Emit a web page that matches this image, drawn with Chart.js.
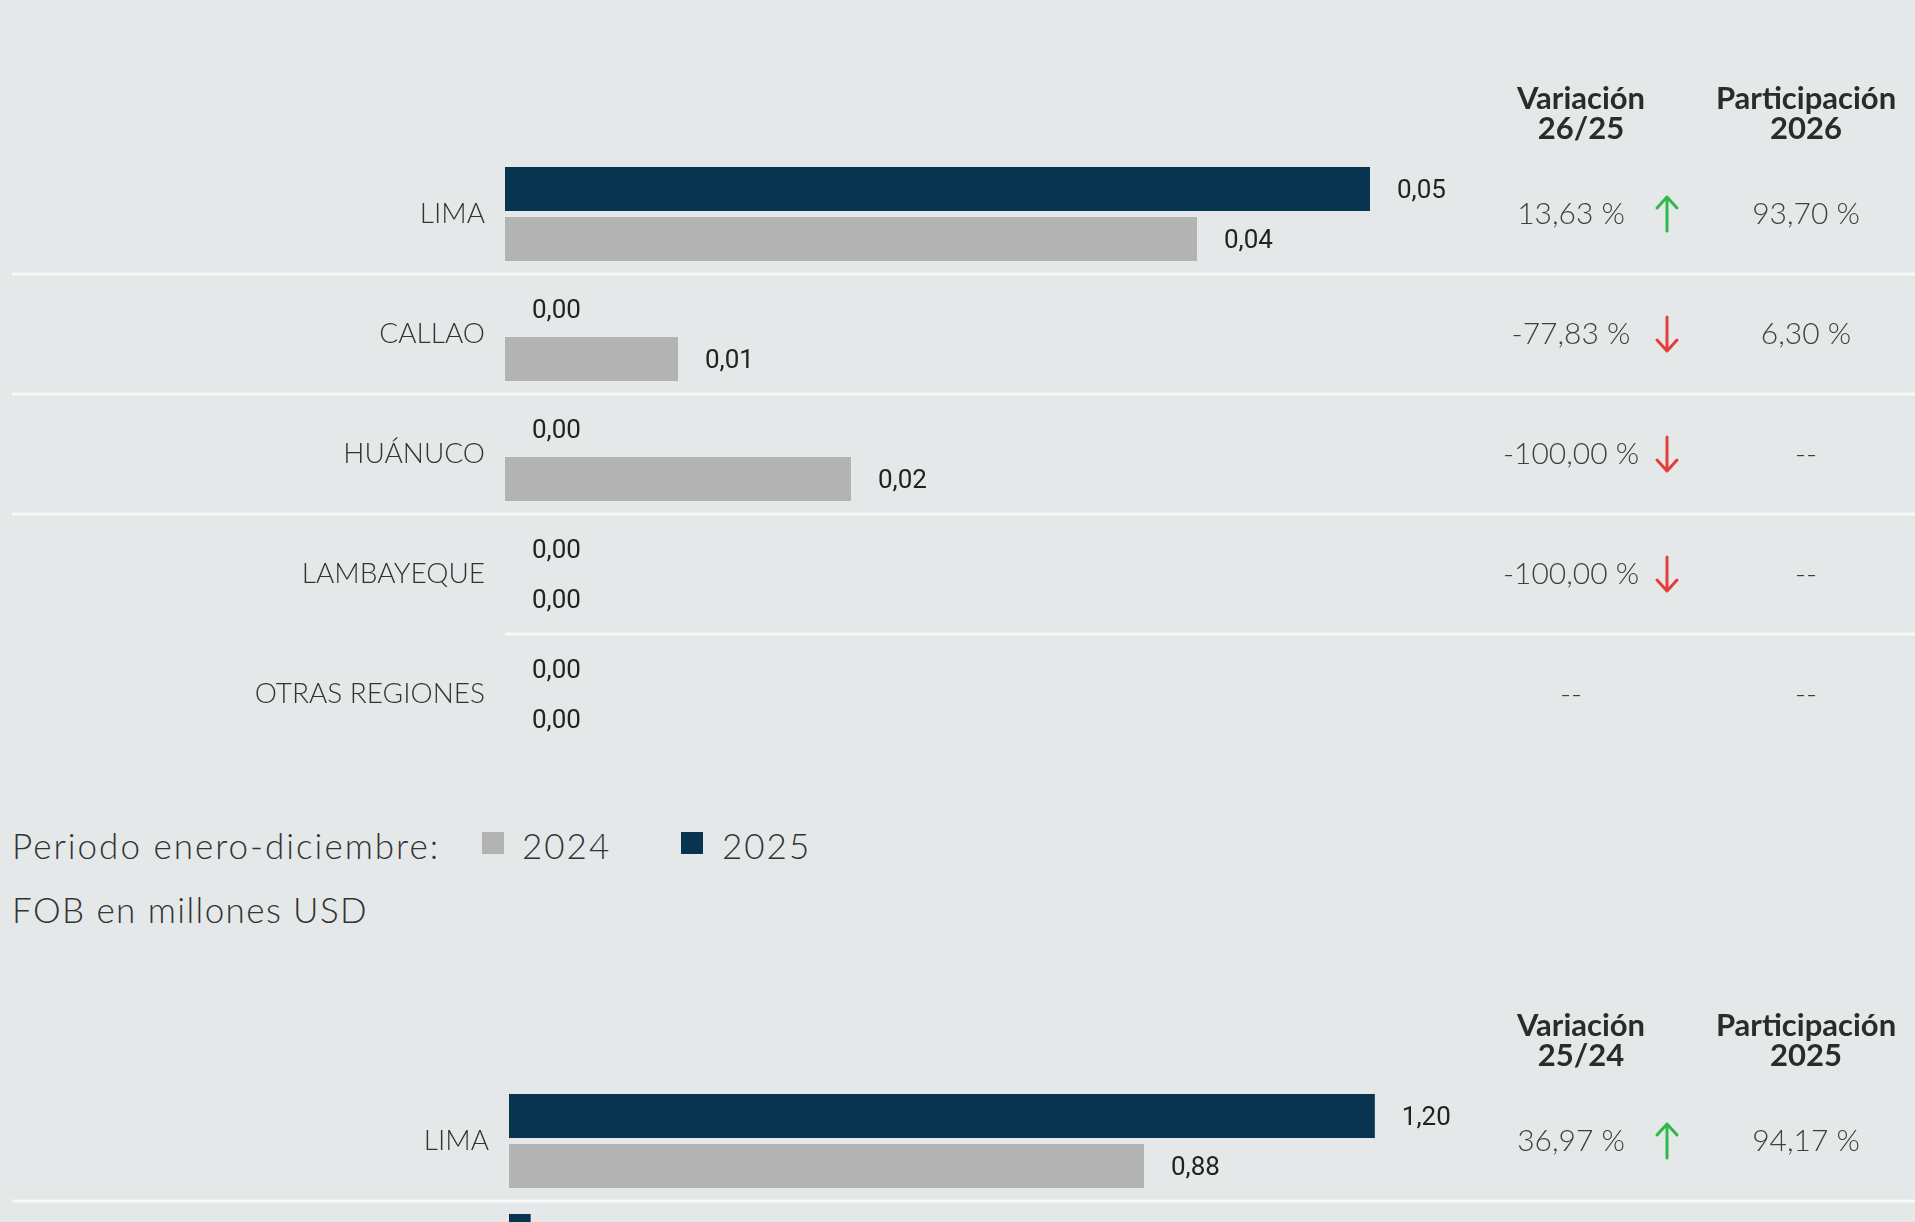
<!DOCTYPE html>
<html>
<head>
<meta charset="utf-8">
<script src="https://cdn.jsdelivr.net/npm/chart.js@4.4.1/dist/chart.umd.min.js"></script>
<style>
  html, body { margin: 0; padding: 0; overflow: hidden; background: #e4e8e9; width: 1915px; height: 1222px; }
  .caja { position: absolute; left: 0; width: 1915px; }
  #caja1 { top: 0; height: 800px; }
  #caja2 { top: 927px; height: 460px; }
  .txt { position: absolute; font-family: Lato, sans-serif; font-weight: 300; font-size: 35px; line-height: 40px; color: #333; white-space: nowrap; letter-spacing: 2px; }
  .cuadro { position: absolute; width: 22px; height: 22px; }
</style>
</head>
<body>
<div class="caja" id="caja1"><canvas id="grafico1" width="1915" height="800"></canvas></div>

<div class="txt" style="left:12px;top:825px;">Periodo enero-diciembre:</div>
<div class="cuadro" style="left:482px;top:832px;background:#b3b3b3;"></div>
<div class="txt" style="left:522px;top:825px;">2024</div>
<div class="cuadro" style="left:681px;top:832px;background:#08344f;"></div>
<div class="txt" style="left:722px;top:825px;">2025</div>
<div class="txt" style="left:12px;top:889px;letter-spacing:1.4px;">FOB en millones USD</div>

<div class="caja" id="caja2"><canvas id="grafico2" width="1915" height="460"></canvas></div>

<script>
// grafico superior (2026 vs 2025)
var regiones1 = ['LIMA', 'CALLAO', 'HUÁNUCO', 'LAMBAYEQUE', 'OTRAS REGIONES'];
var valores2026 = [0.05, 0.00, 0.00, 0.00, 0.00];
var valores2025a = [0.04, 0.01, 0.02, 0.00, 0.00];
var variacion1 = ['13,63 %', '-77,83 %', '-100,00 %', '-100,00 %', '--'];
var tendencia1 = ['up', 'down', 'down', 'down', ''];
var participacion1 = ['93,70 %', '6,30 %', '--', '--', '--'];
var cabecera1 = ['Variación', '26/25', 'Participación', '2026'];

// grafico inferior (2025 vs 2024), recortado por la ventana
var regiones2 = ['LIMA', 'CALLAO'];
var valores2025b = [1.20, 0.03];
var valores2024 = [0.88, null];
var variacion2 = ['36,97 %', ''];
var tendencia2 = ['up', ''];
var participacion2 = ['94,17 %', ''];
var cabecera2 = ['Variación', '25/24', 'Participación', '2025'];

var AZUL = '#08344f';
var GRIS = '#b3b3b3';

function formato(v) {
    return v.toFixed(2).replace('.', ',');
}

function flecha(ctx, x, yc, dir) {
    var h = 34, hw = 10, hh = 11;
    var y1 = yc - h / 2, y2 = yc + h / 2;
    ctx.save();
    ctx.strokeStyle = dir === 'up' ? '#2fb84b' : '#e2403a';
    ctx.lineWidth = 3;
    ctx.lineCap = 'round';
    ctx.lineJoin = 'round';
    ctx.beginPath();
    ctx.moveTo(x, y1);
    ctx.lineTo(x, y2);
    if (dir === 'up') {
        ctx.moveTo(x - hw, y1 + hh); ctx.lineTo(x, y1); ctx.lineTo(x + hw, y1 + hh);
    } else {
        ctx.moveTo(x - hw, y2 - hh); ctx.lineTo(x, y2); ctx.lineTo(x + hw, y2 - hh);
    }
    ctx.stroke();
    ctx.restore();
}

var tablaPlugin = {
    id: 'tabla',
    beforeDatasetsDraw: function(chart, args, opts) {
        var ctx = chart.ctx;
        var y = chart.scales.y;
        var n = chart.data.labels.length;
        ctx.save();
        ctx.strokeStyle = '#f7f8f8';
        ctx.lineWidth = 3;
        for (var i = 0; i < n - 1; i++) {
            var ly = Math.round((y.getPixelForValue(i) + y.getPixelForValue(i + 1)) / 2);
            var x0 = opts.lineaCorta.indexOf(i) >= 0 ? chart.chartArea.left : 12;
            ctx.beginPath();
            ctx.moveTo(x0, ly);
            ctx.lineTo(1915, ly);
            ctx.stroke();
        }
        ctx.restore();
    },
    afterDatasetsDraw: function(chart, args, opts) {
        var ctx = chart.ctx;
        var y = chart.scales.y;
        var top = chart.chartArea.top;
        ctx.save();

        // etiquetas de valores
        ctx.font = '400 26px Roboto';
        ctx.fillStyle = '#222';
        ctx.textAlign = 'left';
        ctx.textBaseline = 'middle';
        chart.data.datasets.forEach(function(ds, d) {
            var meta = chart.getDatasetMeta(d);
            meta.data.forEach(function(bar, i) {
                if (ds.data[i] === null) return;
                ctx.fillText(formato(ds.data[i]), bar.x + 27, bar.y + 2);
            });
        });

        // cabecera de la tabla
        ctx.font = '700 31px Lato';
        ctx.fillStyle = '#2b2b2b';
        ctx.textAlign = 'center';
        ctx.fillText(opts.cabecera[0], opts.colVar, top - 55);
        ctx.fillText(opts.cabecera[1], opts.colVar, top - 25);
        ctx.fillText(opts.cabecera[2], opts.colPart, top - 55);
        ctx.fillText(opts.cabecera[3], opts.colPart, top - 25);

        // filas de la tabla
        ctx.font = '300 30px Lato';
        ctx.fillStyle = '#404040';
        chart.data.labels.forEach(function(lab, i) {
            var cy = y.getPixelForValue(i);
            ctx.fillText(opts.variacion[i], opts.colVar - 10, cy);
            ctx.fillText(opts.participacion[i], opts.colPart, cy);
            if (opts.tendencia[i]) flecha(ctx, opts.colFlecha, cy, opts.tendencia[i]);
        });
        ctx.restore();
    }
};

function crearGrafico(id, regiones, serieA, serieB, cfg) {
    var ctx = document.getElementById(id).getContext('2d');
    return new Chart(ctx, {
        type: 'bar',
        data: {
            labels: regiones,
            datasets: [{
                label: cfg.anios[0],
                data: serieA,
                backgroundColor: AZUL,
                borderWidth: 0,
                categoryPercentage: 100 / 120,
                barPercentage: 0.88
            }, {
                label: cfg.anios[1],
                data: serieB,
                backgroundColor: GRIS,
                borderWidth: 0,
                categoryPercentage: 100 / 120,
                barPercentage: 0.88
            }]
        },
        options: {
            indexAxis: 'y',
            responsive: false,
            animation: false,
            events: [],
            layout: { padding: cfg.padding },
            plugins: {
                legend: { display: false },
                tooltip: { enabled: false },
                tabla: {
                    cabecera: cfg.cabecera,
                    variacion: cfg.variacion,
                    tendencia: cfg.tendencia,
                    participacion: cfg.participacion,
                    lineaCorta: cfg.lineaCorta,
                    colVar: 1581,
                    colFlecha: 1667,
                    colPart: 1806
                }
            },
            scales: {
                x: { display: false, min: 0, max: cfg.max },
                y: {
                    grid: { display: false, drawTicks: false },
                    border: { display: false },
                    ticks: {
                        padding: 20,
                        color: '#333',
                        font: { family: 'Lato', weight: '300', size: 28 }
                    },
                    afterFit: function(scale) { scale.width = cfg.anchoEje; }
                }
            }
        },
        plugins: [tablaPlugin]
    });
}

crearGrafico('grafico1', regiones1, valores2026, valores2025a, {
    anios: ['2026', '2025'],
    max: 0.06,
    anchoEje: 505,
    padding: { top: 154, bottom: 46, left: 0, right: 372 },
    cabecera: cabecera1,
    variacion: variacion1,
    tendencia: tendencia1,
    participacion: participacion1,
    lineaCorta: [3]
});

crearGrafico('grafico2', regiones2, valores2025b, valores2024, {
    anios: ['2025', '2024'],
    max: 1.44,
    anchoEje: 509,
    padding: { top: 154, bottom: 66, left: 0, right: 367 },
    cabecera: cabecera2,
    variacion: variacion2,
    tendencia: tendencia2,
    participacion: participacion2,
    lineaCorta: []
});
</script>
</body>
</html>
